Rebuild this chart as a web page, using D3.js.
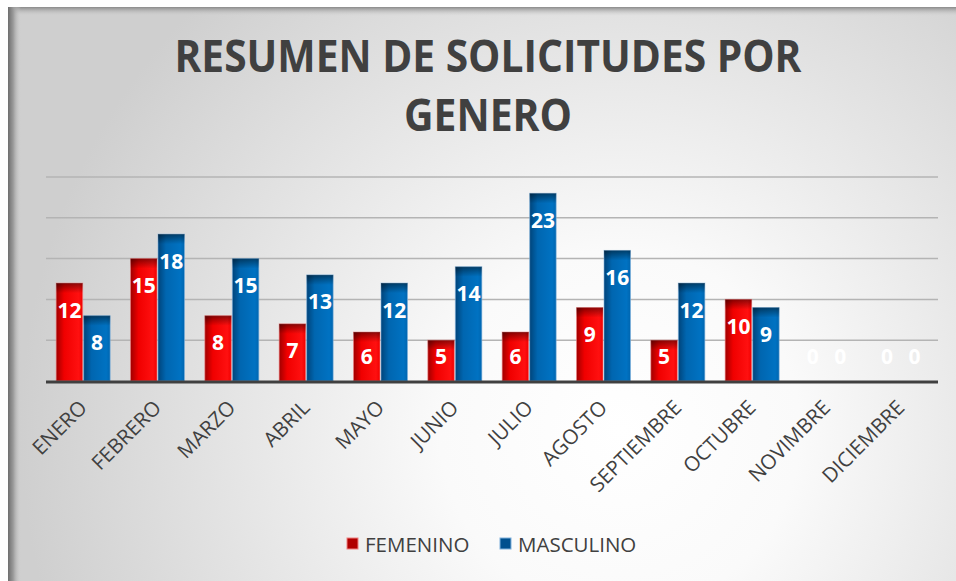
<!DOCTYPE html>
<html>
<head>
<meta charset=utf-8>
<title>Resumen de solicitudes por genero</title>
<style>
body{margin: 0; background: #fff;}
#chart text{font-family: "Open Sans", sans-serif;}
.grid line{stroke: #b4b4b4; stroke-width: 1.5;}
</style>
</head>
<body>
<svg id=chart width=956 height=581></svg>
<script src='https://cdn.jsdelivr.net/npm/d3@7/dist/d3.min.js'></script>
<script>
var meses = ['ENERO','FEBRERO','MARZO','ABRIL','MAYO','JUNIO','JULIO','AGOSTO','SEPTIEMBRE','OCTUBRE','NOVIMBRE','DICIEMBRE'];
var femenino = [12, 15, 8, 7, 6, 5, 6, 9, 5, 10, 0, 0];
var masculino = [8, 18, 15, 13, 12, 14, 23, 16, 12, 9, 0, 0];
var series = [
  {name: 'FEMENINO', values: femenino, grad: 'g-red', key: '#b00000', keyStroke: '#f08080'},
  {name: 'MASCULINO', values: masculino, grad: 'g-blue', key: '#00508f', keyStroke: '#7fb0dc'}
];
var yTicks = [0, 5, 10, 15, 20, 25];

var svg = d3.select('#chart');
var defs = svg.append('defs');

//background: white glow low-right, gray edges
var bg = defs.append('radialGradient').attr('id', 'g-bg')
    .attr('gradientUnits', 'userSpaceOnUse')
    .attr('cx', 620).attr('cy', 430).attr('r', 600);
bg.append('stop').attr('offset', 0).attr('stop-color', '#ffffff');
bg.append('stop').attr('offset', 0.3).attr('stop-color', '#fafafa');
bg.append('stop').attr('offset', 1).attr('stop-color', '#cfcfcf');

var leftEdge = defs.append('linearGradient').attr('id', 'g-left');
leftEdge.append('stop').attr('offset', 0).attr('stop-color', '#6e6e6e');
leftEdge.append('stop').attr('offset', 0.4).attr('stop-color', '#9a9a9a');
leftEdge.append('stop').attr('offset', 1).attr('stop-color', '#d0d0d0').attr('stop-opacity', 0);

var topEdge = defs.append('linearGradient').attr('id', 'g-top')
    .attr('x1', 0).attr('x2', 0).attr('y1', 0).attr('y2', 1);
topEdge.append('stop').attr('offset', 0).attr('stop-color', '#8a8a8a');
topEdge.append('stop').attr('offset', 1).attr('stop-color', '#d0d0d0').attr('stop-opacity', 0);

function barGrad(id, dark, mid, light){
  var g = defs.append('linearGradient').attr('id', id);
  g.append('stop').attr('offset', 0).attr('stop-color', dark);
  g.append('stop').attr('offset', 0.3).attr('stop-color', mid);
  g.append('stop').attr('offset', 0.85).attr('stop-color', light);
  g.append('stop').attr('offset', 1).attr('stop-color', mid);
}
barGrad('g-red', '#a00000', '#f00000', '#ff1010');
barGrad('g-blue', '#00447a', '#0066b0', '#0072c2');

var shade = defs.append('linearGradient').attr('id', 'g-shade')
    .attr('x1', 0).attr('x2', 0).attr('y1', 0).attr('y2', 1);
shade.append('stop').attr('offset', 0).attr('stop-color', '#000').attr('stop-opacity', 0.45);
shade.append('stop').attr('offset', 1).attr('stop-color', '#000').attr('stop-opacity', 0);

//frame
svg.append('rect').attr('x', 8).attr('y', 7).attr('width', 948).attr('height', 574).attr('fill', 'url(#g-bg)');
svg.append('rect').attr('x', 8).attr('y', 7).attr('width', 948).attr('height', 9).attr('fill', 'url(#g-top)');
svg.append('rect').attr('x', 8).attr('y', 7).attr('width', 13).attr('height', 574).attr('fill', 'url(#g-left)');

//title
var title = svg.append('text')
    .attr('text-anchor', 'middle')
    .attr('fill', '#404040')
    .attr('font-weight', 'bold')
    .attr('font-size', 44);
title.append('tspan').attr('x', 488).attr('y', 72).attr('textLength', 627).attr('lengthAdjust', 'spacingAndGlyphs').text('RESUMEN DE SOLICITUDES POR');
title.append('tspan').attr('x', 488).attr('y', 131).attr('textLength', 168).attr('lengthAdjust', 'spacingAndGlyphs').text('GENERO');

//scales
var plot = {left: 46, right: 938, top: 177, bottom: 381};
var x = d3.scaleBand().domain(meses).range([plot.left, plot.right]).paddingInner(0.26).paddingOuter(0.13);
var xs = d3.scaleBand().domain(series.map(s => s.name)).range([0, x.bandwidth()]);
var y = d3.scaleLinear().domain([0, 25]).range([plot.bottom, plot.top]);

//gridlines
svg.append('g').attr('class', 'grid')
  .selectAll('line')
    .data(yTicks.filter(t => t > 0))
  .enter().append('line')
    .attr('x1', plot.left).attr('x2', plot.right)
    .attr('y1', d => y(d)).attr('y2', d => y(d));

//bars
series.forEach(function(s){
  var g = svg.append('g');
  var data = s.values.map((v, i) => ({m: meses[i], v: v}));
  var bars = g.selectAll('g').data(data.filter(d => d.v > 0)).enter().append('g');
  bars.append('rect')
      .attr('x', d => x(d.m) + xs(s.name) + 0.5)
      .attr('y', d => y(d.v))
      .attr('width', xs.bandwidth() - 1)
      .attr('height', d => y(0) - y(d.v))
      .attr('fill', 'url(#' + s.grad + ')')
      .attr('stroke', s.keyStroke)
      .attr('stroke-opacity', 0.6)
      .attr('stroke-width', 1);
  bars.append('rect')
      .attr('x', d => x(d.m) + xs(s.name) + 0.5)
      .attr('y', d => y(d.v))
      .attr('width', xs.bandwidth() - 1)
      .attr('height', 10)
      .attr('fill', 'url(#g-shade)');
  g.selectAll('text.lbl').data(data).enter().append('text')
      .attr('class', 'lbl')
      .attr('x', d => x(d.m) + xs(s.name) + xs.bandwidth() / 2)
      .attr('y', d => Math.min(y(d.v) + 27, 356) + 7.5)
      .attr('text-anchor', 'middle')
      .attr('fill', '#fff')
      .attr('font-weight', 'bold')
      .attr('font-size', 21)
      .text(d => d.v);
});

//x axis
svg.append('line')
    .attr('x1', plot.left).attr('x2', plot.right)
    .attr('y1', y(0) + 1).attr('y2', y(0) + 1)
    .attr('stroke', '#404040').attr('stroke-width', 3);

svg.append('g').selectAll('text')
    .data(meses)
  .enter().append('text')
    .attr('transform', d => 'translate(' + (x(d) + x.bandwidth() / 2 + 5) + ',' + 409 + ') rotate(-45)')
    .attr('text-anchor', 'end')
    .attr('fill', '#404040')
    .attr('font-size', 20.5)
    .text(d => d);

//legend
var legend = svg.append('g');
var lx = [347, 500];
series.forEach(function(s, i){
  legend.append('rect')
      .attr('x', lx[i]).attr('y', 538).attr('width', 11).attr('height', 11)
      .attr('fill', s.key).attr('stroke', s.keyStroke).attr('stroke-width', 1);
  legend.append('text')
      .attr('x', lx[i] + 18).attr('y', 551.5)
      .attr('fill', '#404040')
      .attr('font-size', 20.5)
      .text(s.name);
});
</script>
</body>
</html>
